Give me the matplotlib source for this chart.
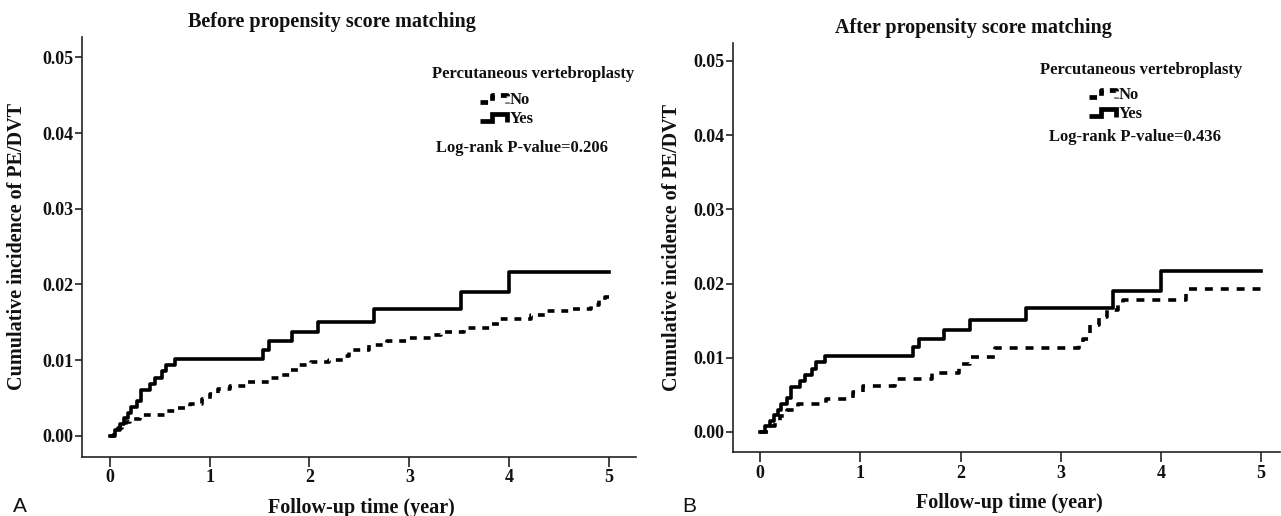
import matplotlib
matplotlib.use("Agg")
import matplotlib.pyplot as plt
from matplotlib.lines import Line2D

# ---------------- data ----------------
yes_t = [0, 0.05, 0.10, 0.14, 0.18, 0.21, 0.27, 0.31, 0.40, 0.45, 0.52, 0.56, 0.65,
         1.53, 1.59, 1.83, 2.09, 2.65, 3.52, 4.00]
yes_v = [0, 0.0008, 0.0015, 0.0023, 0.0030, 0.0038, 0.0046, 0.0061, 0.0069, 0.0077,
         0.0085, 0.0094, 0.0102, 0.0114, 0.0125, 0.0137, 0.0151, 0.0167, 0.0190, 0.0217]

no_before_t = [0, 0.04, 0.08, 0.12, 0.16, 0.20, 0.30, 0.55, 0.68, 0.80, 0.92, 1.00, 1.08,
               1.20, 1.36, 1.60, 1.70, 1.80, 1.90, 2.02, 2.20, 2.34, 2.40, 2.60, 2.78,
               3.00, 3.22, 3.32, 3.55, 3.82, 3.90, 4.22, 4.38, 4.62, 4.82, 4.90, 4.96]
no_before_v = [0, 0.0005, 0.0010, 0.0014, 0.0018, 0.0022, 0.0028, 0.0033, 0.0037, 0.0042,
               0.0049, 0.0055, 0.0062, 0.0066, 0.0071, 0.0076, 0.0081, 0.0087, 0.0093,
               0.0098, 0.0100, 0.0106, 0.0114, 0.0120, 0.0125, 0.0129, 0.0133, 0.0137,
               0.0142, 0.0148, 0.0155, 0.0160, 0.0165, 0.0168, 0.0173, 0.0179, 0.0184]

no_after_t = [0, 0.08, 0.15, 0.20, 0.27, 0.38, 0.66, 0.93, 1.03, 1.35, 1.72, 1.98, 2.09,
              2.34, 3.18, 3.22, 3.29, 3.38, 3.46, 3.57, 3.62, 4.25]
no_after_v = [0, 0.0008, 0.0015, 0.0022, 0.0029, 0.0037, 0.0045, 0.0054, 0.0062, 0.0071,
              0.0080, 0.0091, 0.0101, 0.0113, 0.0118, 0.0125, 0.0144, 0.0155, 0.0164,
              0.0173, 0.0178, 0.0193]

follow_end = 5.0
xticks = [0, 1, 2, 3, 4, 5]
yticks = [0.00, 0.01, 0.02, 0.03, 0.04, 0.05]
ytick_labels = ["0.00", "0.01", "0.02", "0.03", "0.04", "0.05"]
titles = ["Before propensity score matching", "After propensity score matching"]
pvalues = ["Log-rank P-value=0.206", "Log-rank P-value=0.436"]
legend_title = "Percutaneous vertebroplasty"
groups = ["No", "Yes"]
panel_letters = ["A", "B"]

# ---------------- figure ----------------
W, H = 1281, 516
fig = plt.figure(figsize=(W / 100, H / 100), dpi=100)
SERIF = "Liberation Serif"
INK = "#111111"

def fx(px):
    return px / W

def fy(py):
    return 1 - py / H

def box(l, r, t, b):
    return [fx(l), fy(b), fx(r) - fx(l), (b - t) / H]

axA = fig.add_axes(box(82, 636, 37, 457))
axB = fig.add_axes(box(733, 1280, 43, 452))

def extend(t, v):
    return list(t) + [follow_end], list(v) + [v[-1]]

def style(ax, xlim, ylim, ylab_x, xlab_x, xlab_y):
    ax.set_xlim(*xlim)
    ax.set_ylim(*ylim)
    for s in ["top", "right"]:
        ax.spines[s].set_visible(False)
    for s in ["left", "bottom"]:
        ax.spines[s].set_linewidth(1.2)
        ax.spines[s].set_color("#222222")
    ax.set_xticks(xticks)
    ax.set_xticklabels([str(x) for x in xticks])
    ax.set_yticks(yticks)
    ax.set_yticklabels(ytick_labels)
    ax.tick_params(axis="x", length=7, width=1.2, pad=2, color="#222222")
    ax.tick_params(axis="y", length=5, width=1.2, pad=1, color="#222222")
    for lab in ax.get_xticklabels() + ax.get_yticklabels():
        lab.set_fontfamily(SERIF)
        lab.set_fontweight("bold")
        lab.set_fontsize(13)
        lab.set_color(INK)
    ax.set_ylabel("Cumulative incidence of PE/DVT", fontfamily=SERIF,
                  fontweight="bold", fontsize=14.5, color=INK)
    ax.yaxis.set_label_coords(ylab_x, 0.5)
    ax.set_xlabel("Follow-up time (year)", fontfamily=SERIF,
                  fontweight="bold", fontsize=14.5, color=INK)
    ax.xaxis.set_label_coords(xlab_x, xlab_y)

LW = 2.6

# Panel A
t, v = extend(no_before_t, no_before_v)
axA.step(t, v, where="post", color="black", lw=LW, dashes=(1.9, 1.9))
t, v = extend(yes_t, yes_v)
axA.step(t, v, where="post", color="black", lw=LW)
style(axA, (-0.278, 5.27), (-0.0028, 0.0527), -0.099, 0.505, -0.097)

# Panel B
t, v = extend(no_after_t, no_after_v)
axB.step(t, v, where="post", color="black", lw=LW, dashes=(2.2, 2.2))
t, v = extend(yes_t, yes_v)
axB.step(t, v, where="post", color="black", lw=LW)
style(axB, (-0.272, 5.19), (-0.0027, 0.0524), -0.093, 0.505, -0.100)

# titles
fig.text(fx(332), fy(22), titles[0], ha="center", va="center",
         fontfamily=SERIF, fontweight="bold", fontsize=14.5, color=INK)
fig.text(fx(973), fy(28), titles[1], ha="center", va="center",
         fontfamily=SERIF, fontweight="bold", fontsize=14.5, color=INK)

# panel letters
fig.text(fx(20), fy(506), panel_letters[0], ha="center", va="center",
         fontfamily="Liberation Sans", fontsize=15, color=INK)
fig.text(fx(689), fy(506), panel_letters[1], ha="center", va="center",
         fontfamily="Liberation Sans", fontsize=15, color=INK)

# legends (custom step glyphs)
def legend(title_xy, hx, no_y, yes_y, p_xy, ptxt):
    fig.text(fx(title_xy[0]), fy(title_xy[1]), legend_title, ha="center", va="center",
             fontfamily=SERIF, fontweight="bold", fontsize=12, color=INK)
    for gy, name, dashed in [(no_y, groups[0], True), (yes_y, groups[1], False)]:
        xs = [hx, hx + 12, hx + 12, hx + 27, hx + 27]
        ys = [gy + 1.5, gy + 1.5, gy - 5, gy - 5, gy + 2.5]
        ln = Line2D([fx(x) for x in xs], [fy(y) for y in ys], transform=fig.transFigure,
                    color="black", lw=3.4, solid_joinstyle="miter", solid_capstyle="butt",
                    dash_capstyle="butt")
        if dashed:
            ln.set_dashes((1.6, 1.3))
        fig.add_artist(ln)
        fig.text(fx(hx + 30), fy(gy), name, ha="left", va="center",
                 fontfamily=SERIF, fontweight="bold", fontsize=12, color=INK)
    fig.text(fx(p_xy[0]), fy(p_xy[1]), ptxt, ha="center", va="center",
             fontfamily=SERIF, fontweight="bold", fontsize=12, color=INK)

legend((533, 74), 480, 100, 119, (522, 148), pvalues[0])
legend((1141, 70), 1089, 95, 114, (1135, 137), pvalues[1])

fig.savefig("out.png", dpi=100, facecolor="white")
